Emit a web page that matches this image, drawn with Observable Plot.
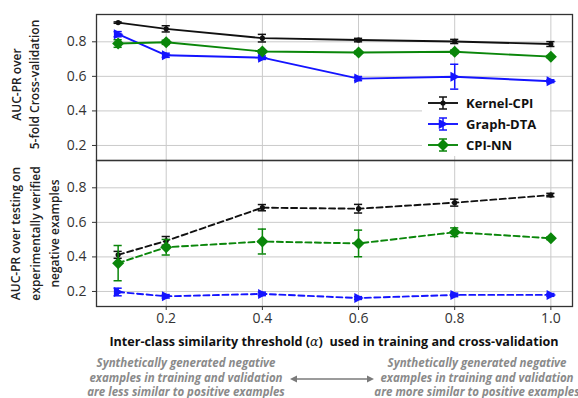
<!DOCTYPE html>
<html>
<head>
<meta charset="utf-8">
<script src="https://cdn.jsdelivr.net/npm/d3@7"></script>
<script src="https://cdn.jsdelivr.net/npm/@observablehq/plot@0.6"></script>
<style>
  html, body { margin: 0; padding: 0; background: #fff; }
  #wrap { position: relative; width: 578px; height: 398px; overflow: hidden; background: #fff; }
  #wrap svg.plot { position: absolute; left: 0; top: 0; }
  .xtitle { position: absolute; left: 96px; width: 476px; top: 333px; text-align: center;
    font-family: "Open Sans", sans-serif; font-weight: 700; font-size: 12.6px; color: #111; line-height: 18px; white-space: nowrap; }
  .note { position: absolute; top: 356px; text-align: center; font-family: "Open Sans", sans-serif;
    font-weight: 700; font-style: italic; font-size: 11.5px; line-height: 14.5px; color: #8a8a8a; white-space: nowrap; }
</style>
</head>
<body>
<div id="wrap"></div>
<script>
// ---------- data ----------
const alphas = [0.1, 0.2, 0.4, 0.6, 0.8, 1.0];
const xTicks = [0.2, 0.4, 0.6, 0.8, 1.0];
const yTicks = [0.2, 0.4, 0.6, 0.8];
const seriesNames = ["Kernel-CPI", "Graph-DTA", "CPI-NN"];
const seriesColors = ["#111111", "#1414ff", "#0a860a"];
const panels = ["cv", "exp"];
const yLabelCV = "AUC-PR over\n5-fold Cross-validation";
const yLabelExp = "AUC-PR over testing on\nexperimentally verified\nnegative examples";
const xTitle = "Inter-class similarity threshold";
const xTitleTail = "used in training and cross-validation";
const noteLeft = ["Synthetically generated negative", "examples in training and validation", "are less similar to positive examples"];
const noteRight = ["Synthetically generated negative", "examples in training and validation", "are more similar to positive examples"];

// 5-fold cross-validation (top panel)
const kernelCV    = [0.911, 0.875, 0.821, 0.810, 0.802, 0.787];
const kernelCVErr = [0.004, 0.018, 0.022, 0.010, 0.012, 0.014];
const graphCV     = [0.844, 0.722, 0.708, 0.587, 0.598, 0.572];
const graphCVErr  = [0.015, 0.012, 0.010, 0.012, 0.072, 0.008];
const cpinnCV     = [0.790, 0.797, 0.744, 0.738, 0.742, 0.714];
const cpinnCVErr  = [0.022, 0.012, 0.010, 0.008, 0.010, 0.006];

// testing on experimentally verified negatives (bottom panel)
const kernelExp    = [0.412, 0.493, 0.685, 0.679, 0.714, 0.758];
const kernelExpErr = [0.020, 0.025, 0.018, 0.025, 0.020, 0.010];
const graphExp     = [0.197, 0.172, 0.186, 0.162, 0.180, 0.180];
const graphExpErr  = [0.022, 0.010, 0.010, 0.008, 0.010, 0.008];
const cpinnExp     = [0.364, 0.456, 0.489, 0.478, 0.543, 0.508];
const cpinnExpErr  = [0.102, 0.045, 0.072, 0.077, 0.025, 0.008];

// ---------- build table ----------
function rowsFor(panel, name, ys, errs) {
  return alphas.map((a, i) => ({panel, series: name, x: a, y: ys[i], err: errs[i]}));
}
const rows = [
  ...rowsFor("cv", "Kernel-CPI", kernelCV, kernelCVErr),
  ...rowsFor("cv", "Graph-DTA", graphCV, graphCVErr),
  ...rowsFor("cv", "CPI-NN", cpinnCV, cpinnCVErr),
  ...rowsFor("exp", "Kernel-CPI", kernelExp, kernelExpErr),
  ...rowsFor("exp", "Graph-DTA", graphExp, graphExpErr),
  ...rowsFor("exp", "CPI-NN", cpinnExp, cpinnExpErr)
];

// custom marker shapes
const triRight = { draw(ctx, size) { const r = Math.sqrt(size / Math.PI);
  ctx.moveTo(r * 1.05, 0); ctx.lineTo(-r * 0.85, -r); ctx.lineTo(-r * 0.85, r); ctx.closePath(); } };
const diamond = { draw(ctx, size) { const r = Math.sqrt(size / Math.PI);
  ctx.moveTo(0, -r); ctx.lineTo(r, 0); ctx.lineTo(0, r); ctx.lineTo(-r, 0); ctx.closePath(); } };
const symbolOf = {"Kernel-CPI": "circle", "Graph-DTA": triRight, "CPI-NN": diamond};
const rOf = {"Kernel-CPI": 2.6, "Graph-DTA": 5, "CPI-NN": 6};
const cap = 0.0085;

const seriesMarks = [];
for (const name of seriesNames) {
  const sub = rows.filter(d => d.series === name);
  for (const p of panels) {
    const sp = sub.filter(d => d.panel === p);
    seriesMarks.push(Plot.line(sp, {x: "x", y: "y", fy: "panel", stroke: "series", strokeWidth: 1.9,
      strokeDasharray: p === "exp" ? "6,3.5" : null}));
  }
  seriesMarks.push(
    Plot.ruleX(sub, {x: "x", y1: d => d.y - d.err, y2: d => d.y + d.err, fy: "panel", stroke: "series", strokeWidth: 1.5}),
    Plot.ruleY(sub, {x1: d => d.x - cap, x2: d => d.x + cap, y: d => d.y - d.err, fy: "panel", stroke: "series", strokeWidth: 1.5}),
    Plot.ruleY(sub, {x1: d => d.x - cap, x2: d => d.x + cap, y: d => d.y + d.err, fy: "panel", stroke: "series", strokeWidth: 1.5}),
    Plot.dot(sub, {x: "x", y: "y", fy: "panel", fill: "series", r: rOf[name], symbol: () => symbolOf[name], stroke: "none"})
  );
}

const plot = Plot.plot({
  width: 578, height: 398,
  marginLeft: 96, marginRight: 6, marginTop: 14, marginBottom: 92,
  style: {fontFamily: "Open Sans, sans-serif", fontSize: "14px", color: "#333", background: "transparent"},
  x: {domain: [0.055, 1.045], ticks: xTicks, tickFormat: d3.format(".1f"), tickSize: 4, tickPadding: 3, label: null},
  y: {domain: [0.113, 0.958], ticks: yTicks, tickFormat: d3.format(".1f"), tickSize: 4, tickPadding: 6, label: null},
  fy: {domain: panels, padding: 0, axis: null, label: null},
  color: {domain: seriesNames, range: seriesColors},
  symbol: {type: "identity"},
  marks: [
    Plot.gridX(xTicks, {stroke: "#cacaca", strokeOpacity: 1, strokeWidth: 1}),
    Plot.gridY(yTicks, {stroke: "#cacaca", strokeOpacity: 1, strokeWidth: 1}),
    ...seriesMarks,
    Plot.frame({stroke: "#333", strokeWidth: 1.3}),
    Plot.text([{panel: "cv", label: yLabelCV}], {fy: "panel", text: "label", frameAnchor: "left", textAnchor: "middle",
      dx: -72, dy: -3, rotate: -90, fontSize: 12, fontWeight: 600, lineHeight: 1.45, fill: "#222"}),
    Plot.text([{panel: "exp", label: yLabelExp}], {fy: "panel", text: "label", frameAnchor: "left", textAnchor: "middle",
      dx: -63, rotate: -90, fontSize: 12, fontWeight: 600, lineHeight: 1.6, fill: "#222"})
  ]
});
plot.classList.add("plot");
const wrap = document.getElementById("wrap");
wrap.appendChild(plot);

// ---------- legend ----------
const leg = d3.create("svg").attr("width", 128).attr("height", 66)
  .style("position", "absolute").style("left", "422px").style("top", "90px");
leg.append("rect").attr("width", 128).attr("height", 66).attr("fill", "#fff").attr("rx", 3);
seriesNames.forEach((name, i) => {
  const cy = 13 + i * 21, col = seriesColors[i];
  const g = leg.append("g").attr("transform", `translate(0,${cy})`);
  g.append("line").attr("x1", 6).attr("x2", 36).attr("stroke", col).attr("stroke-width", 1.9);
  g.append("line").attr("x1", 21).attr("x2", 21).attr("y1", -6).attr("y2", 6).attr("stroke", col).attr("stroke-width", 1.5);
  g.append("line").attr("x1", 17).attr("x2", 25).attr("y1", -6).attr("y2", -6).attr("stroke", col).attr("stroke-width", 1.5);
  g.append("line").attr("x1", 17).attr("x2", 25).attr("y1", 6).attr("y2", 6).attr("stroke", col).attr("stroke-width", 1.5);
  const sym = symbolOf[name] === "circle" ? d3.symbolCircle : symbolOf[name];
  g.append("path").attr("transform", "translate(21,0)").attr("fill", col)
    .attr("d", d3.symbol(sym, Math.PI * rOf[name] * rOf[name])());
  g.append("text").attr("x", 44).attr("y", 0).attr("dy", "0.35em").attr("fill", "#111")
    .attr("font-family", "Open Sans, sans-serif").attr("font-weight", 700).attr("font-size", 13).text(name);
});
wrap.appendChild(leg.node());

// ---------- x title ----------
const t = document.createElement("div");
t.className = "xtitle";
t.innerHTML = `${xTitle} (<span style="font-family:'DejaVu Serif',serif;font-style:italic;font-weight:400">α</span>)&nbsp; ${xTitleTail}`;
wrap.appendChild(t);

// ---------- notes ----------
function note(lines, cx) {
  const d = document.createElement("div");
  d.className = "note";
  d.style.left = (cx - 110) + "px";
  d.style.width = "220px";
  d.innerHTML = lines.join("<br>");
  wrap.appendChild(d);
}
note(noteLeft, 186);
note(noteRight, 477);

const arr = d3.create("svg").attr("width", 90).attr("height", 12)
  .style("position", "absolute").style("left", "288px").style("top", "373px");
arr.append("line").attr("x1", 6).attr("x2", 81).attr("y1", 6).attr("y2", 6).attr("stroke", "#7a7a7a").attr("stroke-width", 1.5);
arr.append("path").attr("d", "M2,6 L9,2.5 L9,9.5 Z").attr("fill", "#7a7a7a");
arr.append("path").attr("d", "M86,6 L79,2.5 L79,9.5 Z").attr("fill", "#7a7a7a");
wrap.appendChild(arr.node());
</script>
</body>
</html>
